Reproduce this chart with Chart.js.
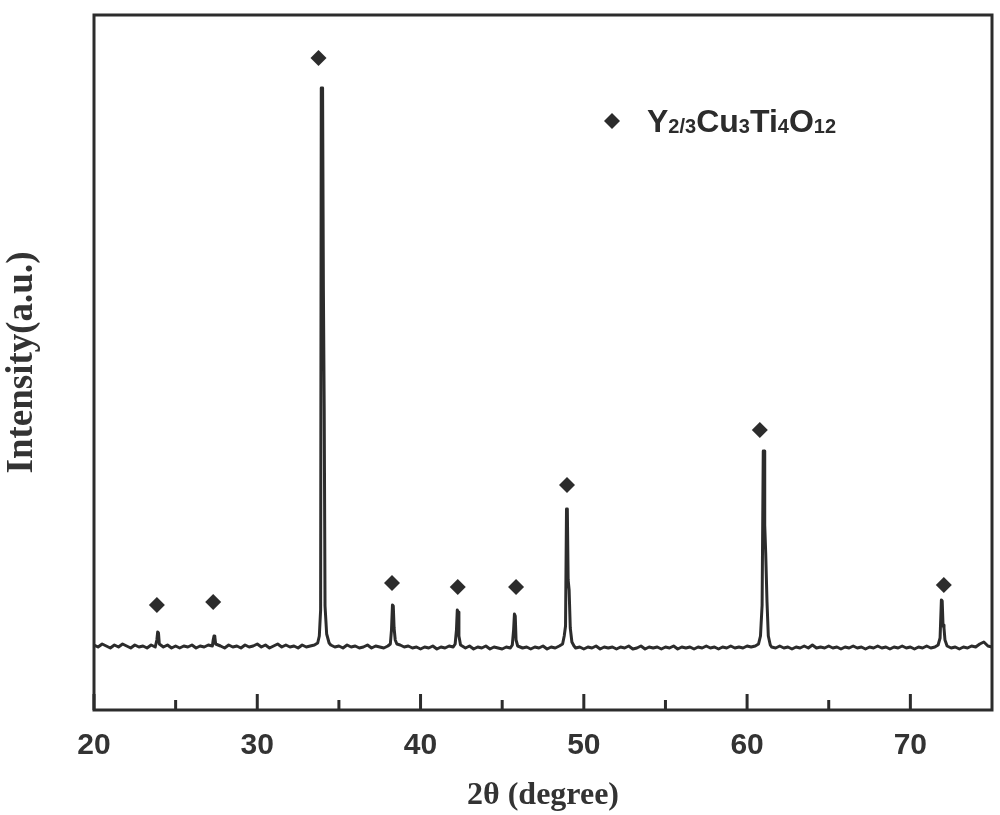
<!DOCTYPE html>
<html><head><meta charset="utf-8">
<script src="https://cdn.jsdelivr.net/npm/chart.js@4/dist/chart.umd.min.js"></script>
<style>html,body{margin:0;padding:0;background:#fff;} #wrap{width:1000px;height:815px;}</style>
</head><body><div id="wrap"><canvas id="c" width="1000" height="815"></canvas></div>
<script>
const twoTheta = [
 20.0,20.25,20.5,20.75,21.0,21.25,21.5,21.75,22.0,22.25,22.5,22.75,23.0,23.25,23.5,23.75,
 23.85,23.9,23.95,24.0,24.25,24.5,24.75,25.0,25.25,25.5,25.75,26.0,26.25,26.5,26.75,27.0,27.25,
 27.3,27.35,27.4,27.45,27.75,28.0,28.25,28.5,28.75,29.0,29.25,29.5,29.75,30.0,30.25,30.5,30.75,
 31.0,31.25,31.5,31.75,32.0,32.25,32.5,32.75,33.0,33.25,33.5,33.7,
 33.8,33.88,33.92,34.0,34.05,34.1,34.15,34.25,34.4,
 34.5,34.75,35.0,35.25,35.5,35.75,36.0,36.25,36.5,36.75,37.0,37.25,37.5,37.75,38.0,38.15,
 38.22,38.28,38.33,38.38,38.45,38.55,38.75,39.0,
 39.25,39.5,39.75,40.0,40.25,40.5,40.75,41.0,41.25,41.5,41.75,42.0,42.12,
 42.2,42.25,42.3,42.35,42.45,42.75,43.0,43.25,43.5,43.75,44.0,44.25,44.5,44.75,45.0,45.25,45.5,45.62,
 45.7,45.75,45.8,45.85,45.95,46.25,46.5,46.75,47.0,47.25,47.5,47.75,48.0,48.25,48.5,48.7,
 48.8,48.88,48.94,48.99,49.04,49.1,49.17,49.27,49.4,49.5,
 49.75,50.0,50.25,50.5,50.75,51.0,51.25,51.5,51.75,52.0,52.25,52.5,52.75,53.0,53.25,53.5,53.75,
 54.0,54.25,54.5,54.75,55.0,55.25,55.5,55.75,56.0,56.25,56.5,56.75,57.0,57.25,57.5,57.75,
 58.0,58.25,58.5,58.75,59.0,59.25,59.5,59.75,60.0,60.25,60.5,60.7,
 60.82,60.92,60.99,61.04,61.08,61.14,61.22,61.3,61.42,61.5,
 61.75,62.0,62.25,62.5,62.75,63.0,63.25,63.5,63.75,64.0,64.25,64.5,64.75,65.0,65.25,65.5,65.75,
 66.0,66.25,66.5,66.75,67.0,67.25,67.5,67.75,68.0,68.25,68.5,68.75,69.0,69.25,69.5,69.75,
 70.0,70.25,70.5,70.75,71.0,71.25,71.5,71.7,
 71.82,71.9,71.95,72.0,72.06,72.12,72.25,72.5,
 72.75,73.0,73.25,73.5,73.75,74.0,74.25,74.5,74.75,75.0
];
const intensity = [
 65,63,66,64,62,65,63,66,64,62,65,63,64,62,65,63,
 70,78,77,66,63,65,62,64,62,64,63,65,62,64,63,65,64,
 70,74,73,66,64,62,65,63,64,62,65,63,64,66,63,65,62,
 64,66,63,65,63,64,62,65,63,64,65,67,
 74,100,622,622,420,300,104,76,67,
 65,63,64,62,65,63,64,62,63,65,62,64,63,62,64,66,
 80,105,104,82,70,66,65,63,
 64,62,63,61,63,62,64,61,63,62,64,63,66,
 80,100,98,74,65,62,64,61,63,62,64,61,63,62,61,63,62,65,
 80,96,94,70,64,62,63,61,63,62,64,61,63,62,64,66,
 74,84,201,201,130,120,82,68,64,62,
 63,61,63,62,64,61,63,62,63,61,63,62,64,61,62,64,61,
 63,62,63,61,63,62,64,61,63,62,63,61,63,62,64,62,
 63,61,63,62,64,62,63,62,64,63,64,66,
 74,105,259,259,185,157,108,74,65,63,
 62,64,62,63,61,63,62,64,62,65,62,63,62,64,62,63,61,
 63,62,64,62,63,61,63,62,64,62,63,61,63,62,64,62,
 63,61,63,62,64,62,63,65,
 72,110,109,85,82,70,64,62,
 63,61,63,62,64,63,66,68,64,63
];
// diamond phase markers above the reflections
const markerTheta = [23.85, 27.3, 33.75, 38.25, 42.28, 45.85, 48.97, 60.78, 72.05];
const markerIntensity = [105, 108, 652, 127, 123, 123, 225, 280, 125];
const xTickLabels = [20, 30, 40, 50, 60, 70];
const xMinorTicks = [25, 35, 45, 55, 65];
const legendParts = [['Y',0],['2/3',1],['Cu',0],['3',1],['Ti',0],['4',1],['O',0],['12',1]];

const INK = '#2c2c2c';

const framePlugin = {
  id: 'frameTicks',
  afterDatasetsDraw(chart) {
    const {ctx, chartArea: a, scales: {x}} = chart;
    ctx.save();
    ctx.strokeStyle = INK;
    ctx.lineWidth = 3;
    ctx.beginPath();
    xTickLabels.forEach(v => { const p = x.getPixelForValue(v); ctx.moveTo(p, a.bottom); ctx.lineTo(p, a.bottom - 16); });
    xMinorTicks.forEach(v => { const p = x.getPixelForValue(v); ctx.moveTo(p, a.bottom); ctx.lineTo(p, a.bottom - 10); });
    ctx.stroke();
    ctx.strokeRect(a.left, a.top, a.right - a.left, a.bottom - a.top);
    // legend
    const lx = 612, ly = 121, r = 8;
    ctx.fillStyle = INK;
    ctx.beginPath();
    ctx.moveTo(lx, ly - r); ctx.lineTo(lx + r, ly); ctx.lineTo(lx, ly + r); ctx.lineTo(lx - r, ly); ctx.closePath();
    ctx.fill();
    let tx = 647;
    const base = 132;
    ctx.textBaseline = 'alphabetic';
    ctx.textAlign = 'left';
    legendParts.forEach(([s, sub]) => {
      ctx.font = sub ? 'bold 20px "Liberation Sans", Arial, sans-serif' : 'bold 32px "Liberation Sans", Arial, sans-serif';
      ctx.fillText(s, tx, base + (sub ? 1 : 0));
      tx += ctx.measureText(s).width;
    });
    ctx.restore();
  }
};

new Chart(document.getElementById('c'), {
  type: 'line',
  data: {
    datasets: [
      {
        data: twoTheta.map((t, i) => ({x: t, y: intensity[i]})),
        borderColor: INK, borderWidth: 3, pointRadius: 0, tension: 0, fill: false,
        borderJoinStyle: 'round'
      },
      {
        type: 'scatter',
        data: markerTheta.map((t, i) => ({x: t, y: markerIntensity[i]})),
        pointStyle: 'rectRot', pointRadius: 8, backgroundColor: INK, borderWidth: 0
      }
    ]
  },
  options: {
    responsive: false,
    animation: false,
    devicePixelRatio: 1,
    layout: {padding: {top: 15, right: 5, left: 0, bottom: 0}},
    plugins: {legend: {display: false}, tooltip: {enabled: false}},
    scales: {
      x: {
        type: 'linear', min: 20, max: 75,
        afterBuildTicks: s => { s.ticks = xTickLabels.map(v => ({value: v})); },
        afterFit: s => { s.height = 105; },
        grid: {display: false, drawTicks: false},
        border: {display: false},
        ticks: {color: '#333', padding: 18, maxRotation: 0, autoSkip: false,
                font: {family: '"Liberation Sans", Arial, sans-serif', size: 30, weight: 'bold'}},
        title: {display: true, text: '2θ (degree)', color: '#333', padding: {top: 0, bottom: 0},
                font: {family: '"Liberation Serif", "Times New Roman", serif', size: 32, weight: 'bold'}}
      },
      y: {
        type: 'linear', min: 0, max: 695,
        afterFit: s => { s.width = 94; },
        grid: {display: false, drawTicks: false},
        border: {display: false},
        ticks: {display: false},
        title: {display: true, text: 'Intensity(a.u.)', color: '#333', padding: {top: 0, bottom: 0},
                font: {family: '"Liberation Serif", "Times New Roman", serif', size: 37, weight: 'bold'}}
      }
    }
  },
  plugins: [framePlugin]
});
</script>
</body></html>
